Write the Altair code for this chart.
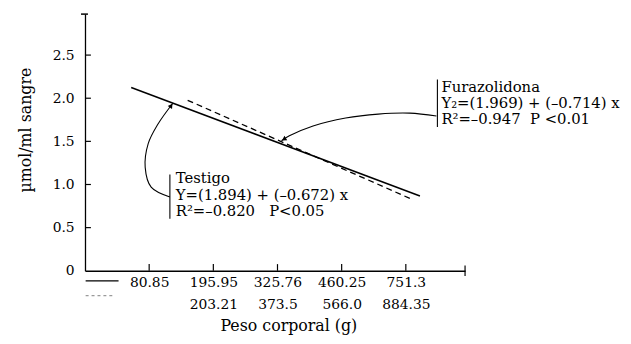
import altair as alt
import pandas as pd

# ---------------- data ----------------
tick_pos = [1, 2, 3, 4, 5]
peso_testigo = ["80.85", "195.95", "325.76", "460.25", "751.3"]
peso_furazolidona = ["", "203.21", "373.5", "566.0", "884.35"]
y_tick_values = [0, 0.5, 1.0, 1.5, 2.0, 2.5]

testigo_x = [0.72, 5.22]
testigo_y = [2.125, 0.866]
furaz_x = [1.60, 5.09]
furaz_y = [1.976, 0.830]

testigo_label = ["Testigo", "Y=(1.894) + (\u20130.672) x", "R\u00b2=\u20130.820\u00a0\u00a0\u00a0P<0.05"]
furaz_label = ["Furazolidona", "Y\u2082=(1.969) + (\u20130.714) x", "R\u00b2=\u20130.947\u00a0\u00a0P <0.01"]

# annotation arrow paths (data units)
testigo_arrow_x = [1.323, 1.031, 0.938, 0.985, 1.138, 1.369]
testigo_arrow_y = [0.855, 0.969, 1.198, 1.473, 1.701, 1.942]
furaz_arrow_x = [5.477, 5.062, 4.569, 4.062, 3.554, 3.185, 3.062]
furaz_arrow_y = [1.793, 1.827, 1.816, 1.770, 1.678, 1.564, 1.507]

X_MAX = 5.923
Y_MAX = 2.975
W, H = 385, 260
FONT = "DejaVu Serif"

xscale = alt.Scale(domain=[0, X_MAX], nice=False, zero=False)
yscale = alt.Scale(domain=[0, Y_MAX], nice=False, zero=False)

parts = [f"datum.value == {p} ? ['{a}', '{b}']" for p, a, b in zip(tick_pos, peso_testigo, peso_furazolidona)]
x_label_expr = " : ".join(parts) + " : ''"

x_axis = alt.Axis(
    values=tick_pos, tickSize=0, labelExpr=x_label_expr, labelFont=FONT, labelFontSize=14,
    labelColor="black", labelBaseline="alphabetic", labelPadding=16, labelLineHeight=22,
    labelAlign="center", labelFlush=False, labelOverlap=False, domainColor="black",
    domainWidth=1.3, grid=False, title="Peso corporal (g)", titleFont=FONT, titleFontSize=16,
    titleFontWeight="normal", titleColor="black", titleX=206, titleY=61, titleAlign="center",
    titleBaseline="alphabetic",
)
y_axis = alt.Axis(
    values=y_tick_values, tickSize=0,
    labelExpr="datum.value == 0 ? '0' : format(datum.value, '.1f')",
    labelFont=FONT, labelFontSize=14, labelColor="black", labelPadding=11,
    labelFlush=False, labelOverlap=False, domainColor="black", domainWidth=1.3, grid=False,
    title="\u00b5mol/ml sangre", titleFont=FONT, titleFontSize=16, titleFontWeight="normal",
    titleColor="black", titleAngle=270, titleX=-60, titleY=117, titleAlign="center",
    titleBaseline="middle",
)


def X(f="x"):
    return alt.X(f"{f}:Q", scale=xscale, axis=x_axis)


def Y(f="y"):
    return alt.Y(f"{f}:Q", scale=yscale, axis=y_axis)


# main regression lines
testigo_line = alt.Chart(pd.DataFrame({"x": testigo_x, "y": testigo_y})).mark_line(
    color="black", strokeWidth=1.5
).encode(x=X(), y=Y())

furaz_line = alt.Chart(pd.DataFrame({"x": furaz_x, "y": furaz_y})).mark_line(
    color="black", strokeWidth=1.3, strokeDash=[6, 4]
).encode(x=X(), y=Y())

# inward ticks
y_ticks = alt.Chart(pd.DataFrame({"y": y_tick_values[1:], "x": 0.0, "x2": 0.092})).mark_rule(
    color="black", strokeWidth=1.2
).encode(x=X(), x2="x2:Q", y=Y())
x_ticks = alt.Chart(pd.DataFrame({"x": tick_pos, "y": 0.0, "y2": 0.077})).mark_rule(
    color="black", strokeWidth=1.2
).encode(x=X(), y=Y(), y2="y2:Q")

# axis end caps
cap_top = alt.Chart(pd.DataFrame({"x": [-0.062], "x2": [0.046], "y": [Y_MAX]})).mark_rule(
    color="black", strokeWidth=1.5
).encode(x=X(), x2="x2:Q", y=Y())
cap_right = alt.Chart(pd.DataFrame({"x": [X_MAX], "y": [-0.06], "y2": [0.06]})).mark_rule(
    color="black", strokeWidth=1.2
).encode(x=X(), y=Y(), y2="y2:Q")

# legend keys under the axis
leg_solid = alt.Chart(pd.DataFrame({"x": [0.01], "x2": [0.523], "y": [-0.118]})).mark_rule(
    color="black", strokeWidth=1.3
).encode(x=X(), x2="x2:Q", y=Y())
leg_dash = alt.Chart(pd.DataFrame({"x": [0.01], "x2": [0.45], "y": [-0.289]})).mark_rule(
    color="#9a9a9a", strokeWidth=1.2, strokeDash=[3, 3]
).encode(x=X(), x2="x2:Q", y=Y())

# annotation bars
bars = alt.Chart(pd.DataFrame({"x": [1.323, 5.492], "y": [1.117, 2.216], "y2": [0.602, 1.667]})).mark_rule(
    color="black", strokeWidth=1.1
).encode(x=X(), y=Y(), y2="y2:Q")

# annotation texts
texts = alt.Chart(pd.DataFrame({
    "x": [1.415] * 3 + [5.554] * 3,
    "y": [1.015, 0.820, 0.636, 2.068, 1.884, 1.701],
    "t": testigo_label + furaz_label,
})).mark_text(align="left", baseline="alphabetic", font=FONT, fontSize=15, color="black").encode(
    x=X(), y=Y(), text="t:N"
)

# curved arrows
arrow_df = pd.DataFrame({
    "x": testigo_arrow_x + furaz_arrow_x,
    "y": testigo_arrow_y + furaz_arrow_y,
    "g": ["t"] * len(testigo_arrow_x) + ["f"] * len(furaz_arrow_x),
    "i": list(range(len(testigo_arrow_x))) + list(range(len(furaz_arrow_x))),
})
arrows = alt.Chart(arrow_df).mark_line(color="black", strokeWidth=1.1, interpolate="catmull-rom").encode(
    x=X(), y=Y(), detail="g:N", order="i:Q"
)
heads = alt.Chart(pd.DataFrame({"x": [1.343, 3.10], "y": [1.914, 1.525], "a": [35, 238]})).mark_point(
    shape="triangle-up", filled=True, color="black", size=28, opacity=1
).encode(x=X(), y=Y(), angle=alt.Angle("a:Q", scale=None))

chart = alt.layer(
    testigo_line, furaz_line, y_ticks, x_ticks, cap_top, cap_right, leg_solid, leg_dash,
    bars, texts, arrows, heads,
).properties(
    width=W, height=H,
    autosize=alt.AutoSizeParams(type="none"),
    padding={"left": 78, "top": 4, "right": 160, "bottom": 72},
    background="white",
).configure_view(stroke=None)

chart.save("out.html", embed_options={"renderer": "svg", "actions": False})
